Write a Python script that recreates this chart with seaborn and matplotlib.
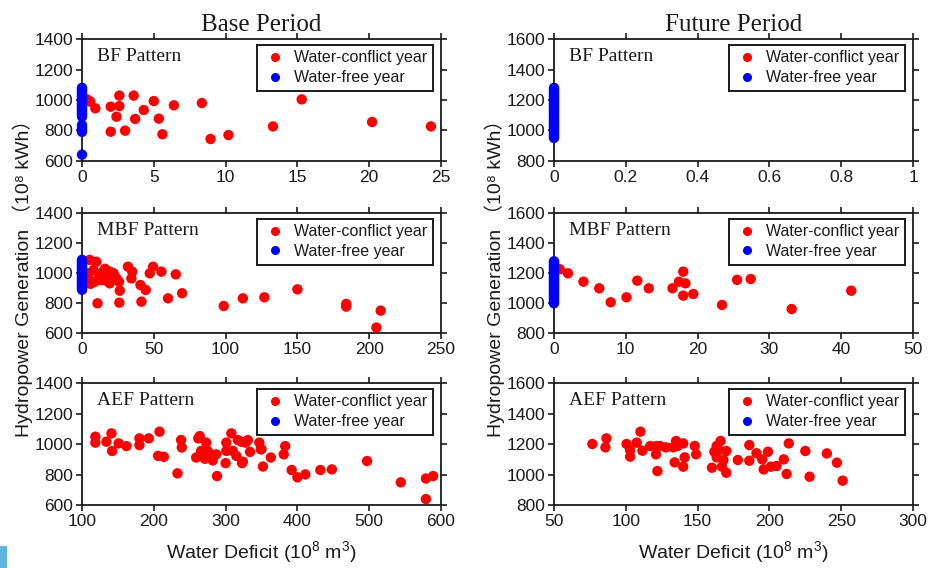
import numpy as np
import pandas as pd
import matplotlib
matplotlib.use("Agg")
import matplotlib.pyplot as plt
import seaborn as sns
from matplotlib.lines import Line2D
from matplotlib.ticker import FuncFormatter
from matplotlib.patches import Rectangle

# ---------------- data ----------------
base_bf_conf_x = [0.35, 0.58, 0.93, 2.0, 2.0, 2.4, 2.6, 2.6, 3.0, 3.6, 3.7, 4.3, 5.0, 5.35, 5.6, 6.4,
                  8.35, 8.95, 10.2, 13.3, 15.3, 20.2, 24.3]
base_bf_conf_y = [1004, 989, 945, 956, 791, 890, 1029, 960, 798, 1029, 875, 934, 993, 877, 774, 965,
                  980, 743, 769, 826, 1004, 855, 826]
base_bf_free_y = [1080, 1070, 1060, 1050, 1040, 1030, 1020, 1010, 1000, 990, 980, 970, 960, 950, 940,
                  930, 920, 910, 900, 890, 835, 815, 800, 790, 640]

base_mbf_conf_x = [5.4, 10, 8, 9, 14.6, 13.5, 19.3, 20.5, 19.3, 24, 25.8, 26.3, 32, 34.4, 35, 10.8, 26,
                   41.4, 40.7, 44.4, 47.2, 49.5, 55.3, 59.9, 65.3, 69.7, 98.7, 112, 127, 150, 184, 184,
                   205, 208, 4, 5, 12, 16, 22, 6, 17]
base_mbf_conf_y = [1089, 1077, 1022, 944, 1011, 955, 1011, 977, 933, 966, 944, 884, 1044, 966, 1011, 800,
                   804, 811, 922, 889, 1000, 1044, 1011, 833, 993, 867, 782, 833, 840, 893, 796, 778,
                   638, 751, 1000, 960, 990, 1030, 1000, 930, 950]
base_mbf_free_y = [890, 900, 910, 920, 930, 940, 950, 960, 970, 980, 990, 1000, 1010, 1020, 1030, 1040,
                   1050, 1060, 1070, 1080, 1090]

base_aef_conf_x = [118.6, 118.6, 134, 141, 142, 151, 162, 180, 180, 193, 208, 206, 214, 233, 238, 239,
                   262, 264, 259, 266, 271, 273, 275, 278, 282, 287, 288, 301, 301, 300, 308, 310, 315,
                   317, 323, 328, 331, 334, 347, 350, 352, 363, 381, 383, 392, 400, 411, 432, 448, 497,
                   544, 579, 579, 589, 322, 349, 324]
base_aef_conf_y = [1049, 1010, 1016, 1071, 955, 1005, 987, 1038, 994, 1038, 1082, 923, 917, 808, 1027, 978,
                   1038, 1053, 912, 956, 904, 1010, 956, 933, 893, 933, 790, 1010, 956, 875, 1071, 956, 923,
                   1027, 875, 1010, 1027, 949, 1010, 967, 853, 912, 933, 987, 830, 782, 801, 830, 834, 889,
                   749, 774, 639, 790, 1016, 966, 885]

fut_bf_free_y = [950, 960, 970, 980, 990, 1000, 1010, 1020, 1030, 1040, 1050, 1060, 1070, 1080, 1090,
                 1100, 1110, 1120, 1130, 1140, 1150, 1160, 1170, 1180, 1190, 1200, 1210, 1220, 1230,
                 1240, 1250, 1260, 1270, 1280]

fut_mbf_conf_x = [0.8, 1.95, 4.1, 6.3, 7.9, 10.1, 11.6, 13.2, 16.5, 17.4, 18, 18.3, 18, 19.4, 23.4, 25.5,
                  27.4, 33.1, 41.4]
fut_mbf_conf_y = [1227, 1200, 1144, 1100, 1007, 1040, 1151, 1100, 1100, 1144, 1211, 1133, 1051, 1062, 989,
                  1156, 1162, 962, 1084]
fut_mbf_free_y = [1000, 1010, 1020, 1030, 1040, 1050, 1060, 1070, 1080, 1090, 1100, 1110, 1120, 1130,
                  1140, 1150, 1160, 1170, 1180, 1190, 1200, 1210, 1220, 1230, 1240, 1250, 1260, 1270, 1280]

fut_aef_conf_x = [76.7, 86.5, 85.8, 100.5, 103, 103, 107.6, 110.2, 111.6, 117, 121.4, 121, 122, 123.7, 128,
                  133, 134, 135, 136, 140, 141, 140, 148, 149, 160, 161.7, 163.3, 163.3, 165, 166, 168,
                  167, 170, 170, 178, 186, 186, 191, 195, 196, 199, 201, 205, 210, 212, 213.5, 225, 228,
                  240, 247, 251]
fut_aef_conf_y = [1201, 1238, 1179, 1201, 1161, 1118, 1210, 1282, 1157, 1188, 1188, 1133, 1023, 1188, 1179,
                  1179, 1080, 1221, 1188, 1205, 1113, 1052, 1188, 1133, 1045, 1150, 1113, 1188, 1161, 1221,
                  1096, 1052, 1155, 1012, 1096, 1194, 1091, 1140, 1100, 1034, 1150, 1052, 1056, 1100, 1004,
                  1205, 1155, 986, 1139, 1078, 960]

CONF = "Water-conflict year"
FREE = "Water-free year"

base_x_ticks = {"BF": [0, 5, 10, 15, 20, 25], "MBF": [0, 50, 100, 150, 200, 250],
                "AEF": [100, 200, 300, 400, 500, 600]}
fut_x_ticks = {"BF": [0, 0.2, 0.4, 0.6, 0.8, 1], "MBF": [0, 10, 20, 30, 40, 50],
               "AEF": [50, 100, 150, 200, 250, 300]}
base_y_ticks = [600, 800, 1000, 1200, 1400]
fut_y_ticks = [800, 1000, 1200, 1400, 1600]

# build a long table
rows = []
def add(period, pattern, xs, ys, kind):
    for x, y in zip(xs, ys):
        rows.append(dict(period=period, pattern=pattern, deficit=x, generation=y, type=kind))

add("Base", "BF", base_bf_conf_x, base_bf_conf_y, CONF)
add("Base", "BF", [0] * len(base_bf_free_y), base_bf_free_y, FREE)
add("Base", "MBF", base_mbf_conf_x, base_mbf_conf_y, CONF)
add("Base", "MBF", [0] * len(base_mbf_free_y), base_mbf_free_y, FREE)
add("Base", "AEF", base_aef_conf_x, base_aef_conf_y, CONF)
add("Future", "BF", [0] * len(fut_bf_free_y), fut_bf_free_y, FREE)
add("Future", "MBF", fut_mbf_conf_x, fut_mbf_conf_y, CONF)
add("Future", "MBF", [0] * len(fut_mbf_free_y), fut_mbf_free_y, FREE)
add("Future", "AEF", fut_aef_conf_x, fut_aef_conf_y, CONF)
df = pd.DataFrame(rows)

# ---------------- style ----------------
sns.set_theme(style="white")
plt.rcParams["font.family"] = ["Liberation Sans", "DejaVu Sans", "Noto Sans CJK SC"]
plt.rcParams["mathtext.fontset"] = "custom"
plt.rcParams["mathtext.rm"] = "Liberation Sans"
plt.rcParams["mathtext.default"] = "regular"

palette = {CONF: "#FF0000", FREE: "#0000FF"}

fig = plt.figure(figsize=(9.33, 5.68), dpi=100)
W, H = 933.0, 568.0
col_left = {"Base": 82, "Future": 554}
col_w = 359
row_box = {"BF": (39.3, 160.7), "MBF": (213.3, 333.3), "AEF": (383.3, 505.0)}

axes = {}
for period in ["Base", "Future"]:
    for pattern in ["BF", "MBF", "AEF"]:
        top, bot = row_box[pattern]
        ax = fig.add_axes([col_left[period] / W, 1 - bot / H, col_w / W, (bot - top) / H])
        axes[(period, pattern)] = ax
        sub = df[(df.period == period) & (df.pattern == pattern)]
        sns.scatterplot(data=sub, x="deficit", y="generation", hue="type",
                        hue_order=[CONF, FREE], palette=palette, s=56, linewidth=0,
                        edgecolor="none", legend=False, ax=ax, zorder=3, clip_on=False)
        xt = base_x_ticks[pattern] if period == "Base" else fut_x_ticks[pattern]
        yt = base_y_ticks if period == "Base" else fut_y_ticks
        ax.set_xlim(xt[0], xt[-1])
        ax.set_ylim(yt[0], yt[-1])
        ax.set_xticks(xt)
        ax.set_yticks(yt)
        ax.xaxis.set_major_formatter(FuncFormatter(lambda v, p: "{:g}".format(v)))
        ax.tick_params(direction="out", bottom=True, left=True, top=True, right=True,
                       length=4, width=1.2, labelsize=12.5, colors="#1a1a1a", pad=2.5)
        ax.tick_params(labeltop=False, labelright=False, labelbottom=True, labelleft=True)
        for sp in ax.spines.values():
            sp.set_visible(True)
            sp.set_color("#1a1a1a")
            sp.set_linewidth(1.3)
        ax.set_xlabel("")
        ax.set_ylabel("")
        ax.text(0.041, 0.93, f"{pattern} Pattern", transform=ax.transAxes, va="top", ha="left",
                fontsize=14, family=["Liberation Serif", "DejaVu Serif"], color="#1a1a1a")
        handles = [Line2D([], [], marker="o", ls="", color=palette[CONF], markersize=5.5),
                   Line2D([], [], marker="o", ls="", color=palette[FREE], markersize=5.5)]
        leg = ax.legend(handles, [CONF, FREE], loc="upper right", bbox_to_anchor=(0.977, 0.955),
                        fontsize=11.5, frameon=True, fancybox=False, borderpad=0.35,
                        handlelength=1.5, handletextpad=0.45, labelspacing=0.3,
                        borderaxespad=0.0)
        fr = leg.get_frame()
        fr.set_edgecolor("#1a1a1a")
        fr.set_linewidth(1.4)
        fr.set_alpha(1)
        for t in leg.get_texts():
            t.set_color("#1a1a1a")

for period, title in [("Base", "Base Period"), ("Future", "Future Period")]:
    axes[(period, "BF")].set_title(title, fontsize=18, family=["Liberation Serif", "DejaVu Serif"],
                                   pad=6, color="#1a1a1a")
    axes[(period, "MBF")].set_ylabel("Hydropower Generation （10⁸ kWh）", fontsize=14,
                                     labelpad=1, color="#1a1a1a",
                                     family=["Liberation Sans", "DejaVu Sans", "Noto Sans CJK SC"])
    axes[(period, "AEF")].set_xlabel("Water Deficit (10$^8$ m$^3$)", fontsize=14, labelpad=7,
                                     color="#1a1a1a")

fig.patches.append(Rectangle((0, 0), 7 / W, 22 / H, transform=fig.transFigure,
                             facecolor="#5fb4de", edgecolor="none"))

fig.savefig("out.png", dpi=100)
